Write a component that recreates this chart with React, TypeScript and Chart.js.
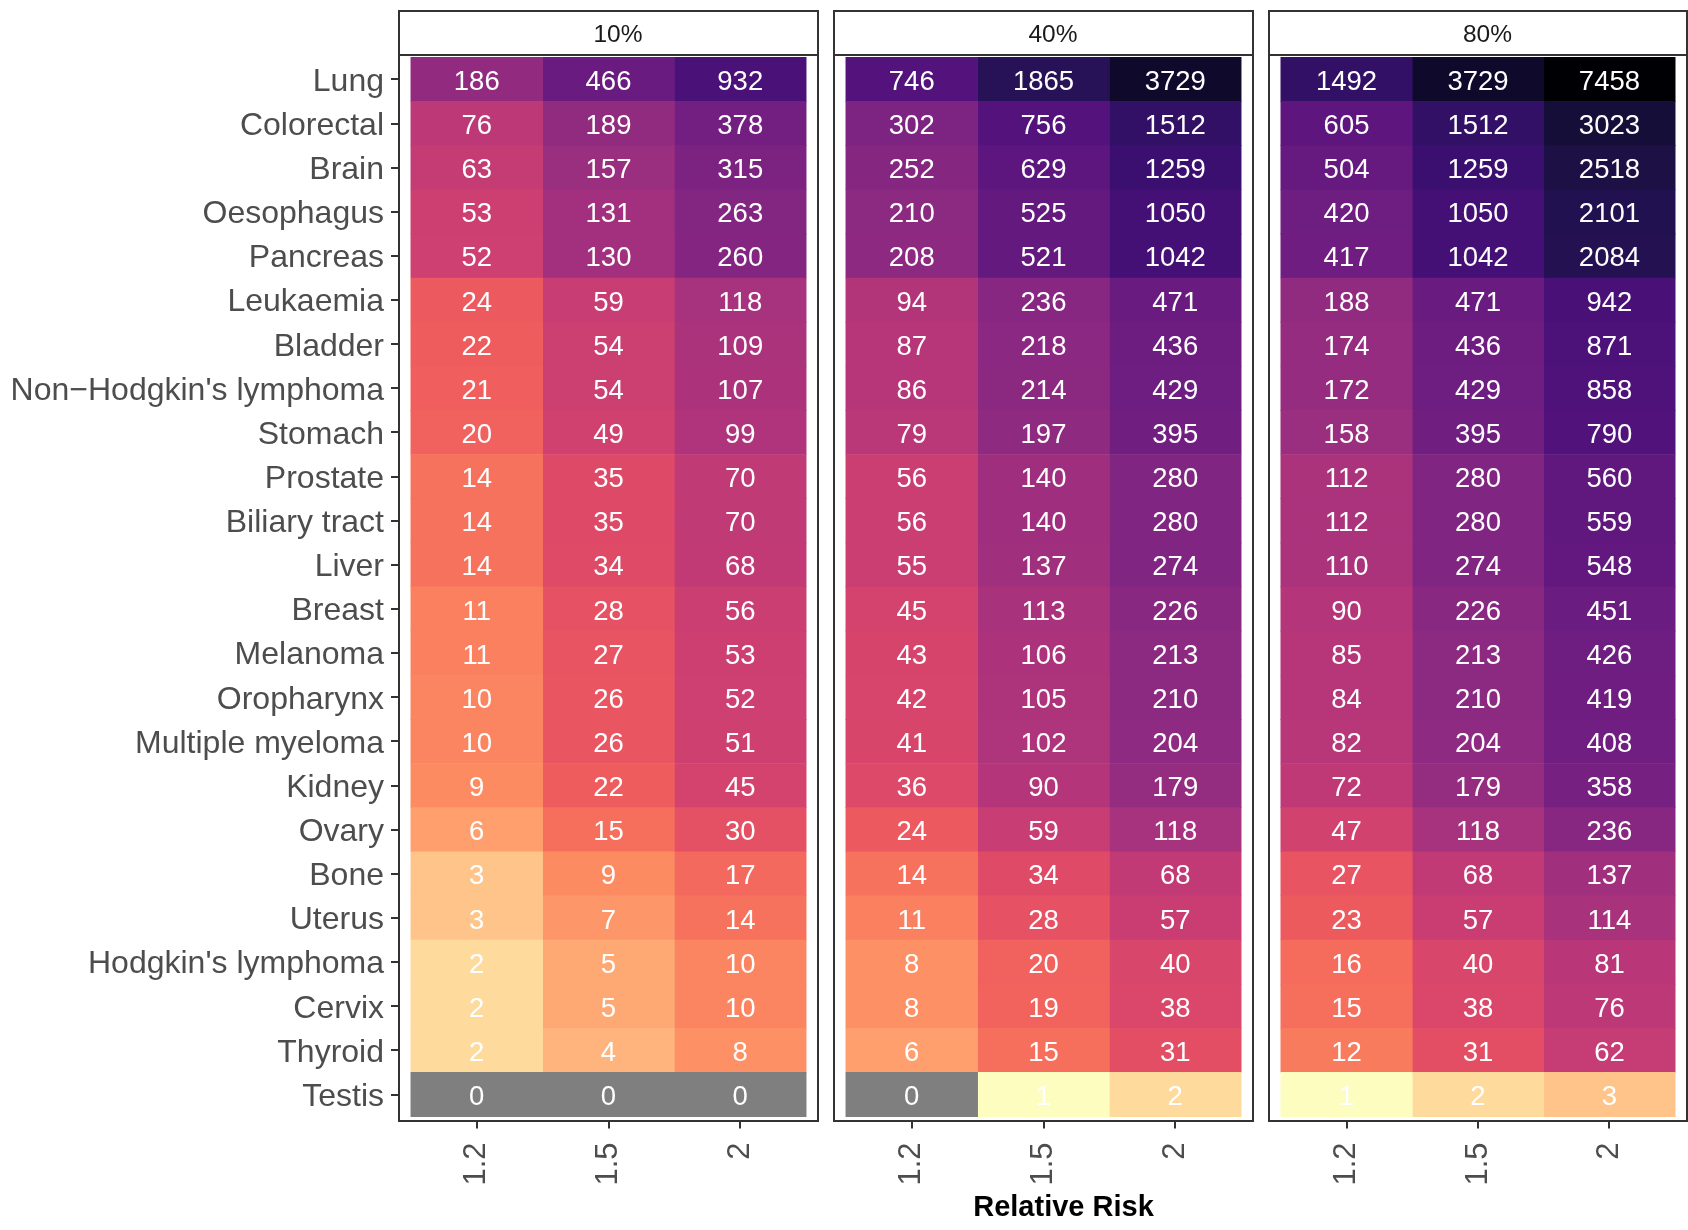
import React, { useEffect, useRef } from "react";
import { Chart, registerables } from "chart.js";

Chart.register(...registerables);

// ---------------- data ----------------
const categories = [
  "Lung", "Colorectal", "Brain", "Oesophagus", "Pancreas", "Leukaemia", "Bladder",
  "Non\u2212Hodgkin's lymphoma", "Stomach", "Prostate", "Biliary tract", "Liver", "Breast",
  "Melanoma", "Oropharynx", "Multiple myeloma", "Kidney", "Ovary", "Bone", "Uterus",
  "Hodgkin's lymphoma", "Cervix", "Thyroid", "Testis",
];
const rrLabels = ["1.2", "1.5", "2"];
const facetLabels = ["10%", "40%", "80%"];
const axisTitle = "Relative Risk";

const p10_rr12 = [186, 76, 63, 53, 52, 24, 22, 21, 20, 14, 14, 14, 11, 11, 10, 10, 9, 6, 3, 3, 2, 2, 2, 0];
const p10_rr15 = [466, 189, 157, 131, 130, 59, 54, 54, 49, 35, 35, 34, 28, 27, 26, 26, 22, 15, 9, 7, 5, 5, 4, 0];
const p10_rr20 = [932, 378, 315, 263, 260, 118, 109, 107, 99, 70, 70, 68, 56, 53, 52, 51, 45, 30, 17, 14, 10, 10, 8, 0];

const p40_rr12 = [746, 302, 252, 210, 208, 94, 87, 86, 79, 56, 56, 55, 45, 43, 42, 41, 36, 24, 14, 11, 8, 8, 6, 0];
const p40_rr15 = [1865, 756, 629, 525, 521, 236, 218, 214, 197, 140, 140, 137, 113, 106, 105, 102, 90, 59, 34, 28, 20, 19, 15, 1];
const p40_rr20 = [3729, 1512, 1259, 1050, 1042, 471, 436, 429, 395, 280, 280, 274, 226, 213, 210, 204, 179, 118, 68, 57, 40, 38, 31, 2];

const p80_rr12 = [1492, 605, 504, 420, 417, 188, 174, 172, 158, 112, 112, 110, 90, 85, 84, 82, 72, 47, 27, 23, 16, 15, 12, 1];
const p80_rr15 = [3729, 1512, 1259, 1050, 1042, 471, 436, 429, 395, 280, 280, 274, 226, 213, 210, 204, 179, 118, 68, 57, 40, 38, 31, 2];
const p80_rr20 = [7458, 3023, 2518, 2101, 2084, 942, 871, 858, 790, 560, 559, 548, 451, 426, 419, 408, 358, 236, 137, 114, 81, 76, 62, 3];

const facets = [
  [p10_rr12, p10_rr15, p10_rr20],
  [p40_rr12, p40_rr15, p40_rr20],
  [p80_rr12, p80_rr15, p80_rr20],
];

// ---------------- colour scale (magma, reversed, log10) ----------------
const MAGMA21 = [
  "#000004", "#07061C", "#150E38", "#251255", "#3B0F70", "#51127C", "#65197F",
  "#7A2282", "#8C2981", "#A1307E", "#B63679", "#CB3E72", "#DE4968", "#EE5B5E",
  "#F7705C", "#FC8961", "#FE9F6D", "#FEB77E", "#FECF92", "#FDE7A9", "#FCFDBF",
];
const NA_COLOR = "#7F7F7F";

function hexToRgb(h: string) {
  const n = parseInt(h.slice(1), 16);
  return [(n >> 16) & 255, (n >> 8) & 255, n & 255];
}
const STOPS = MAGMA21.slice().reverse().map(hexToRgb);

const allVals = facets.flat(2).filter((v) => v > 0);
const LOG_MIN = Math.log10(Math.min(...allVals));
const LOG_MAX = Math.log10(Math.max(...allVals));

function fillFor(v: number) {
  if (!(v > 0)) return NA_COLOR;
  let t = (Math.log10(v) - LOG_MIN) / (LOG_MAX - LOG_MIN);
  t = Math.min(1, Math.max(0, t));
  const n = STOPS.length - 1;
  const idx = Math.min(n - 1, Math.floor(t * n));
  const f = t * n - idx;
  const a = STOPS[idx], b = STOPS[idx + 1];
  const rgb = [0, 1, 2].map((j) => Math.round(a[j] + (b[j] - a[j]) * f));
  return `rgb(${rgb[0]},${rgb[1]},${rgb[2]})`;
}

// ---------------- layout ----------------
const FONT = '"Liberation Sans", Arial, Helvetica, sans-serif';
const H = 1230;
const CANVASES = [
  { left: 0, w: 826, padL: 0, padR: 8 },
  { left: 826, w: 435, padL: 8, padR: 8 },
  { left: 1261, w: 427, padL: 8, padR: 1 },
];
const AREA_TOP = 55;
const AREA_BOTTOM = 1121;
const STRIP_TOP = 11;
const STRIP_TEXT_DX = 9.5;
const Y_AXIS_W = 399;
const TITLE_X = 1063.5;
const TITLE_Y = 1215.5;

Chart.defaults.font.family = FONT;

function makePlugin(k: number, canvasLeft: number) {
  return {
    id: "facetDeco" + k,
    afterDatasetsDraw(chart: any) {
      const ctx = chart.ctx;
      const vals = facets[k];
      ctx.save();
      ctx.fillStyle = "#ffffff";
      ctx.font = `27.5px ${FONT}`;
      ctx.textAlign = "center";
      ctx.textBaseline = "middle";
      vals.forEach((col, c) => {
        const meta = chart.getDatasetMeta(c);
        meta.data.forEach((el: any, i: number) => {
          const p = el.getCenterPoint();
          ctx.fillText(String(col[i]), p.x, p.y + 3);
        });
      });
      ctx.restore();
    },
    afterDraw(chart: any) {
      const ctx = chart.ctx;
      const a = chart.chartArea;
      ctx.save();
      ctx.strokeStyle = "#333333";
      ctx.lineWidth = 2;
      // panel border
      ctx.strokeRect(a.left, a.top, a.right - a.left, a.bottom - a.top);
      // strip
      ctx.fillStyle = "#ffffff";
      ctx.fillRect(a.left, STRIP_TOP, a.right - a.left, a.top - STRIP_TOP);
      ctx.strokeRect(a.left, STRIP_TOP, a.right - a.left, a.top - STRIP_TOP);
      ctx.fillStyle = "#1a1a1a";
      ctx.font = `24.5px ${FONT}`;
      ctx.textAlign = "center";
      ctx.textBaseline = "middle";
      ctx.fillText(facetLabels[k], (a.left + a.right) / 2 + STRIP_TEXT_DX, (STRIP_TOP + a.top) / 2 + 2);
      if (k === 1) {
        ctx.fillStyle = "#000000";
        ctx.font = `bold 29px ${FONT}`;
        ctx.textBaseline = "alphabetic";
        ctx.fillText(axisTitle, TITLE_X - canvasLeft, TITLE_Y);
      }
      ctx.restore();
    },
  };
}

function makeConfig(k: number): any {
  const cv = CANVASES[k];
  const cols = facets[k];
  return {
    type: "bar",
    data: {
      datasets: cols.map((vals, c) => ({
        label: rrLabels[c],
        data: vals.map((v, i) => ({ x: [c + 0.5, c + 1.5], y: i + 1 })),
        backgroundColor: vals.map(fillFor),
        borderWidth: 0,
        grouped: false,
        barPercentage: 1,
        categoryPercentage: 1,
      })),
    },
    options: {
      indexAxis: "y",
      animation: false,
      responsive: false,
      events: [],
      layout: { padding: { left: cv.padL, right: cv.padR, top: AREA_TOP, bottom: 0 } },
      plugins: { legend: { display: false }, tooltip: { enabled: false }, title: { display: false } },
      scales: {
        x: {
          type: "linear",
          position: "bottom",
          min: 0.41,
          max: 3.59,
          beginAtZero: false,
          offset: false,
          afterBuildTicks: (s: any) => {
            s.ticks = rrLabels.map((_, i) => ({ value: i + 1 }));
          },
          afterFit: (s: any) => {
            s.height = H - AREA_BOTTOM;
          },
          ticks: {
            callback: (v: number) => rrLabels[Math.round(v) - 1],
            autoSkip: false,
            minRotation: 90,
            maxRotation: 90,
            padding: 14,
            color: "#4d4d4d",
            font: { size: 31 },
          },
          grid: { drawOnChartArea: false, drawTicks: true, tickLength: 7.5, color: "#333333", lineWidth: 2, offset: false },
          border: { display: false },
        },
        y: {
          type: "linear",
          display: k === 0,
          reverse: true,
          min: 0.448,
          max: 24.6,
          offset: false,
          beginAtZero: false,
          afterBuildTicks: (s: any) => {
            s.ticks = categories.map((_, i) => ({ value: i + 1 }));
          },
          afterFit: (s: any) => {
            s.width = k === 0 ? Y_AXIS_W : 0;
          },
          ticks: {
            callback: (v: number) => categories[Math.round(v) - 1],
            autoSkip: false,
            padding: 7,
            labelOffset: 2.5,
            color: "#4d4d4d",
            font: { size: 32 },
          },
          grid: { drawOnChartArea: false, drawTicks: true, tickLength: 8, color: "#333333", lineWidth: 2, offset: false },
          border: { display: false },
        },
      },
    },
    plugins: [makePlugin(k, cv.left)],
  };
}

export default function App() {
  const r0 = useRef<HTMLCanvasElement>(null);
  const r1 = useRef<HTMLCanvasElement>(null);
  const r2 = useRef<HTMLCanvasElement>(null);
  const refs = [r0, r1, r2];

  useEffect(() => {
    const charts = refs.map((r, k) => new Chart(r.current as HTMLCanvasElement, makeConfig(k)));
    return () => charts.forEach((c) => c.destroy());
  }, []);

  return (
    <div
      style={{
        position: "absolute",
        left: 0,
        top: 0,
        width: 1688,
        height: H,
        background: "#ffffff",
        overflow: "hidden",
      }}
    >
      {CANVASES.map((c, k) => (
        <canvas
          key={k}
          ref={refs[k]}
          width={c.w}
          height={H}
          style={{ position: "absolute", left: c.left, top: 0, width: c.w, height: H, display: "block" }}
        />
      ))}
    </div>
  );
}
